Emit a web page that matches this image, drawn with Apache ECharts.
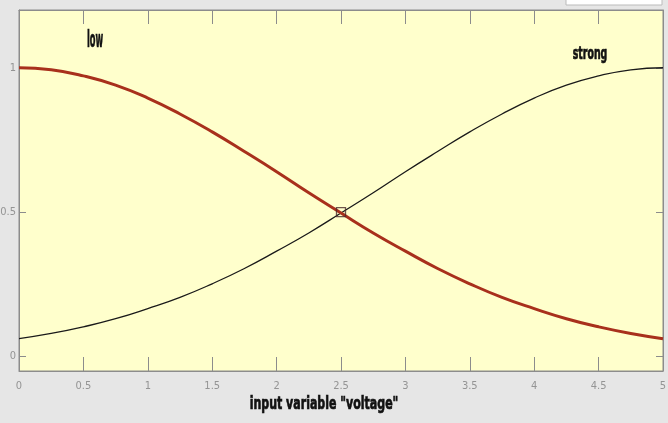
<!DOCTYPE html>
<html>
<head>
<meta charset="utf-8">
<script src="https://cdn.jsdelivr.net/npm/echarts@6/dist/echarts.min.js"></script>
<style>html,body{margin:0;padding:0;background:#e6e6e6;}#c{width:668px;height:423px;}</style>
</head>
<body>
<div id="c"></div>
<script>
const xValues = [0, 0.25, 0.5, 0.75, 1, 1.25, 1.5, 1.75, 2, 2.25, 2.5, 2.75, 3, 3.25, 3.5, 3.75, 4, 4.25, 4.5, 4.75, 5];
const lowValues = [1.00, 0.993, 0.972, 0.94, 0.895, 0.84, 0.778, 0.71, 0.64, 0.567, 0.497, 0.428, 0.365, 0.305, 0.252, 0.205, 0.166, 0.131, 0.103, 0.08, 0.062];
const strongValues = [0.062, 0.08, 0.103, 0.131, 0.166, 0.205, 0.252, 0.305, 0.365, 0.428, 0.497, 0.567, 0.64, 0.71, 0.778, 0.84, 0.895, 0.94, 0.972, 0.993, 1.00];
const markerPoint = [[2.5, 0.5]];
const xTicks = [0, 0.5, 1, 1.5, 2, 2.5, 3, 3.5, 4, 4.5, 5];
const yTicks = [0, 0.5, 1];
const xTitle = 'input variable "voltage"';
const mfNames = ['low', 'strong'];

const FONT = '"DejaVu Sans Condensed", "Liberation Sans Narrow", "Noto Sans", sans-serif';
const pair = (ys) => xValues.map((x, i) => [x, ys[i]]);
const chart = echarts.init(document.getElementById('c'));
const tickFont = {fontFamily: FONT, fontSize: 11, color: '#949494'};
const axisCommon = {
  axisLine: {show: true, onZero: false, lineStyle: {color: '#8c8c8c'}},
  splitLine: {show: false}
};
const heavy = {fill: '#111', stroke: '#111', lineWidth: 0.7, align: 'center', verticalAlign: 'middle'};
chart.setOption({
  backgroundColor: '#e6e6e6',
  animation: false,
  grid: {left: 19, right: 5, top: 10, bottom: 52, outerBoundsMode: 'none', containLabel: false, show: true, backgroundColor: '#ffffcc', borderColor: '#8c8c8c', borderWidth: 1},
  xAxis: [Object.assign({
    type: 'value', min: 0, max: 5, interval: 0.5, position: 'bottom',
    axisTick: {show: true, inside: true, length: 14, lineStyle: {color: '#8c8c8c'}},
    axisLabel: Object.assign({margin: 10, customValues: xTicks, formatter: v => String(v)}, tickFont)
  }, axisCommon), Object.assign({
    type: 'value', min: 0, max: 5, interval: 0.5, position: 'top',
    axisTick: {show: true, inside: true, length: 14, lineStyle: {color: '#8c8c8c'}},
    axisLabel: {show: false}
  }, axisCommon)],
  yAxis: [Object.assign({
    type: 'value', min: -0.05, max: 1.2, position: 'left',
    axisTick: {show: true, inside: true, length: 7, customValues: yTicks, lineStyle: {color: '#8c8c8c'}},
    axisLabel: Object.assign({margin: 3, customValues: yTicks, formatter: v => String(v)}, tickFont)
  }, axisCommon), Object.assign({
    type: 'value', min: -0.05, max: 1.2, position: 'right',
    axisTick: {show: true, inside: true, length: 7, customValues: yTicks, lineStyle: {color: '#8c8c8c'}},
    axisLabel: {show: false}
  }, axisCommon)],
  series: [{
    name: mfNames[1], type: 'line', data: pair(strongValues), smooth: true, showSymbol: false,
    lineStyle: {color: '#1a1a1a', width: 1.3}
  }, {
    name: mfNames[0], type: 'line', data: pair(lowValues), smooth: true, showSymbol: false,
    lineStyle: {color: '#a8301c', width: 3}
  }, {
    type: 'scatter', data: markerPoint, symbol: 'rect', symbolSize: 9,
    itemStyle: {color: 'rgba(0,0,0,0)', borderColor: '#4a2a2a', borderWidth: 1.3}, z: 5
  }],
  graphic: [
    {type: 'text', x: 95, y: 41, scaleX: 0.4, style: Object.assign({text: mfNames[0], font: 'bold 23px ' + FONT}, heavy)},
    {type: 'text', x: 590, y: 54, scaleX: 0.58, style: Object.assign({text: mfNames[1], font: 'bold 18px ' + FONT}, heavy)},
    {type: 'text', x: 324, y: 404, scaleX: 0.68, style: Object.assign({text: xTitle, font: 'bold 18px ' + FONT}, heavy)},
    {type: 'rect', shape: {x: 566, y: -2, width: 96, height: 7}, style: {fill: '#ffffff', stroke: '#bbbbbb'}}
  ]
});
</script>
</body>
</html>
